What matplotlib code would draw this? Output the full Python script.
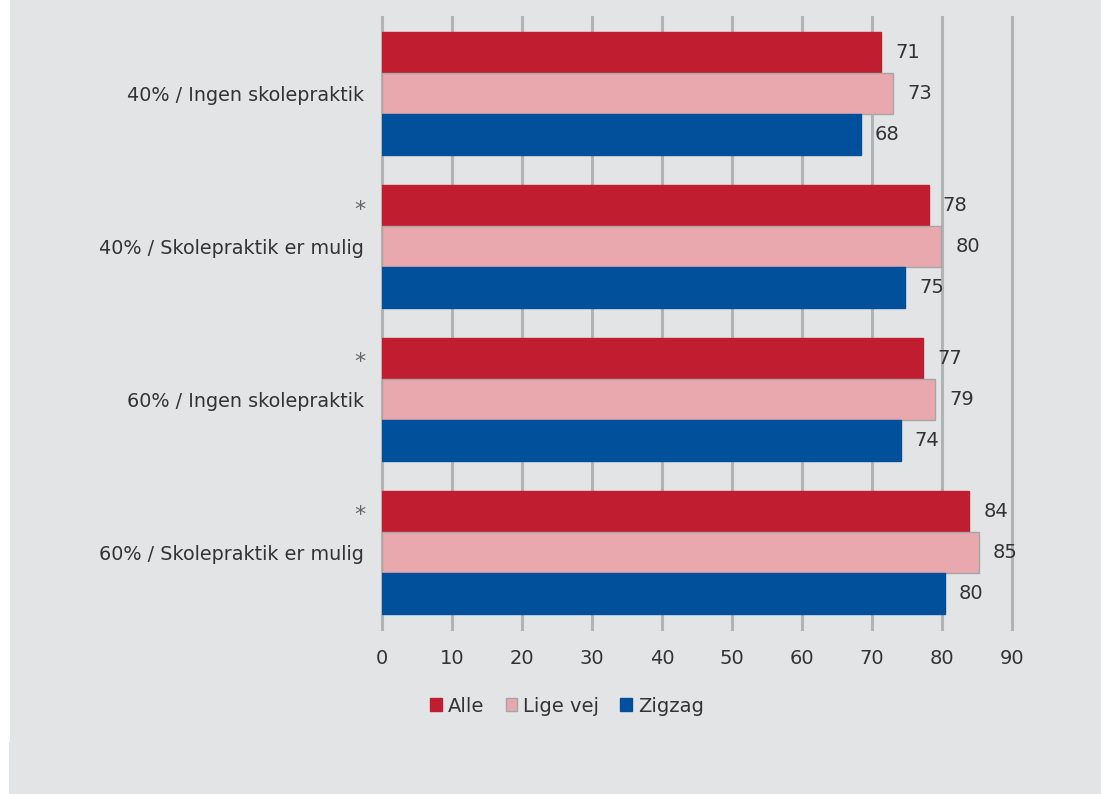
import numpy as np
import matplotlib.pyplot as plt
from matplotlib.patches import Rectangle

# Data
categories = ["40% / Ingen skolepraktik", "40% / Skolepraktik er mulig",
              "60% / Ingen skolepraktik", "60% / Skolepraktik er mulig"]
starred = [False, True, True, True]
series_names = ["Alle", "Lige vej", "Zigzag"]
alle = [71.3, 78.1, 77.3, 83.9]
lige_vej = [73.0, 79.9, 79.0, 85.3]
zigzag = [68.4, 74.7, 74.1, 80.4]
x_ticks = [0, 10, 20, 30, 40, 50, 60, 70, 80, 90]

bg = "#e3e4e6"
colors = ["#c01e30", "#e8a8ae", "#00509b"]
edges = [None, "#a6a6a6", None]
txt = "#333333"

plt.rcParams['font.family'] = ['DejaVu Sans']

fig = plt.figure(figsize=(11.01, 7.94), dpi=100, facecolor=bg)
fig.patches.append(Rectangle((0, 0.065), 10 / 1101, 1, transform=fig.transFigure,
                             facecolor="white", edgecolor="none", zorder=0))
fig.patches.append(Rectangle((0, 0), 9 / 1101, 0.066, transform=fig.transFigure,
                             facecolor="white", edgecolor="none", zorder=0))

# axes from x=382..1012 (0..90), y=17..628.5
ax = fig.add_axes([382 / 1101, 1 - 628.5 / 794, 630 / 1101, 611.5 / 794])
ax.set_facecolor(bg)

y = np.arange(len(categories))
h = 41 / 153
for i, vals in enumerate([alle, lige_vej, zigzag]):
    pos = y + (i - 1) * h
    ax.barh(pos, vals, height=h, color=colors[i], label=series_names[i],
            edgecolor=edges[i] if edges[i] else colors[i], linewidth=1, zorder=3)
    for p, v in zip(pos, vals):
        ax.text(v + 2.0, p, "%.0f" % v, va="center", ha="left", fontsize=14,
                color=txt, zorder=4)

ax.set_xlim(0, 90)
ax.set_ylim(3.5, -0.5)
ax.set_xticks(x_ticks)
ax.set_yticks(y)
ax.set_yticklabels(categories)
ax.tick_params(axis="x", length=0, pad=15, labelsize=14, labelcolor=txt)
ax.tick_params(axis="y", length=0, pad=13, labelsize=13.8, labelcolor=txt)
for xt in x_ticks:
    ax.axvline(xt, color="#b3b3b3", linewidth=2.2, zorder=1, clip_on=False)
for s in ["top", "right", "bottom", "left"]:
    ax.spines[s].set_visible(False)

for yi, st in zip(y, starred):
    if st:
        ax.text(-3.2, yi - 0.24, "*", ha="center", va="center", fontsize=16,
                color="#666666")

leg = fig.legend(loc="center", bbox_to_anchor=(567 / 1101, 1 - 706 / 794), ncol=3,
                 frameon=False, fontsize=14, handlelength=0.6, handleheight=0.6,
                 handletextpad=0.3, columnspacing=1.1, labelcolor=txt)

fig.savefig("out.png", dpi=100, facecolor=bg)
